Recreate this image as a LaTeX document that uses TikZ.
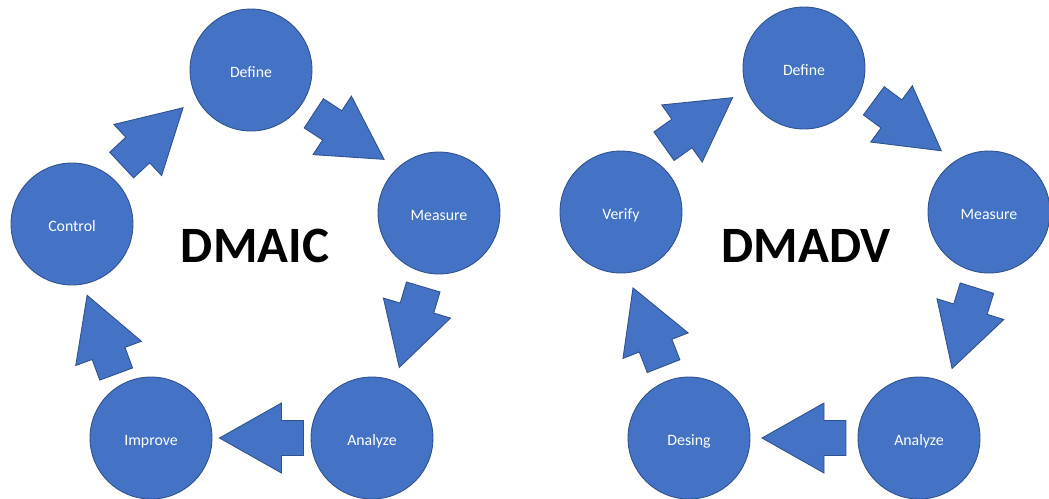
\documentclass[tikz,border=0pt]{standalone}
\usepackage{fontspec}
\setmainfont{Carlito}
\usepackage{xcolor}
\definecolor{colorStage}{HTML}{4472C4}
\definecolor{colorBorder}{HTML}{2F528F}
\usepackage{tikz}
\usetikzlibrary{calc}
\tikzset{stage/.style={circle, fill=colorStage, draw=colorBorder, line width=0.5pt, minimum size=2.44cm, inner sep=0pt, text height=10pt, text depth=2pt, text=white, font=\fontsize{9}{11}\selectfont},
  blockarrow/.style={fill=colorStage, draw=colorBorder, line width=0.5pt, line join=miter},
  title/.style={font=\fontsize{29}{32}\selectfont\bfseries}}
\newcommand{\blockarrow}[4]{\filldraw[blockarrow] let \p1=($(#2)-(#1)$), \n1={atan2(\y1,\x1)}, \n2={\n1+#4}, \p2=($($(#1)!0.5!(#2)$)+(\n1+90:#3)$) in
  ($(\p2)+(\n2:-0.84cm)+(\n2+90:0.35cm)$) -- ($(\p2)+(\n2:-0.40cm)+(\n2+90:0.35cm)$) -- ($(\p2)+(\n2:-0.40cm)+(\n2+90:0.70cm)$) -- ($(\p2)+(\n2:0.84cm)$) -- ($(\p2)+(\n2:-0.40cm)+(\n2-90:0.70cm)$) -- ($(\p2)+(\n2:-0.40cm)+(\n2-90:0.35cm)$) -- ($(\p2)+(\n2:-0.84cm)+(\n2-90:0.35cm)$) -- cycle;}
\begin{document}
\begin{tikzpicture}[x=0.02cm, y=-0.02cm]
\useasboundingbox (0,0) rectangle (1049,498);
\node[stage] (ld) at (251,70) {Define};
\node[stage] (lm) at (439,213) {Measure};
\node[stage] (la) at (372,438) {Analyze};
\node[stage] (li) at (151,438) {Improve};
\node[stage] (lc) at (72,224) {Control};
\node[title] (lt) at (255,246) {DMAIC};
\blockarrow{ld}{lm}{0.13cm}{4}
\blockarrow{lm}{la}{0.12cm}{0}
\blockarrow{la}{li}{0cm}{0}
\blockarrow{li}{lc}{0.21cm}{0}
\blockarrow{lc}{ld}{0.28cm}{2.3}
\node[stage] (rd) at (804,68) {Define};
\node[stage] (rm) at (989,212) {Measure};
\node[stage] (ra) at (919,438) {Analyze};
\node[stage] (rs) at (689,438) {Desing};
\node[stage] (rv) at (621,212) {Verify};
\node[title] (rt) at (806,246) {DMADV};
\blockarrow{rd}{rm}{0.36cm}{1.4}
\blockarrow{rm}{ra}{0.22cm}{0}
\blockarrow{ra}{rs}{0cm}{0}
\blockarrow{rs}{rv}{0.14cm}{4.6}
\blockarrow{rv}{rd}{0.46cm}{-2.9}
\end{tikzpicture}
\end{document}
